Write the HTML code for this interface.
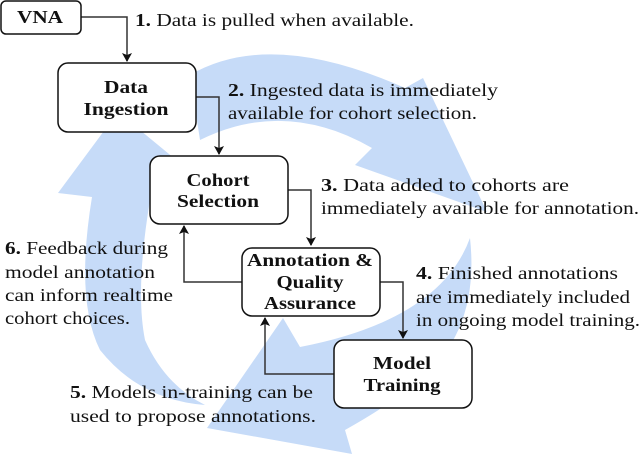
<!DOCTYPE html>
<html><head><meta charset="utf-8"><style>
body{margin:0;width:640px;height:454px;overflow:hidden;background:#fff}
svg{position:absolute;left:0;top:0}
text{font-family:"Liberation Serif","DejaVu Serif",serif;fill:#111}
.t{font-size:18px}
.b{font-size:18px;font-weight:bold;text-anchor:middle}
</style></head><body>
<svg width="640" height="454" viewBox="0 0 640 454" font-family="Liberation Serif, DejaVu Serif, serif">
<defs><marker id="a" markerWidth="10" markerHeight="10" refX="8" refY="5" orient="auto" markerUnits="userSpaceOnUse"><path d="M0,0 L9,5 L0,10 L2,5 Z" fill="#111"/></marker></defs>
<g fill="#c6dbf8">
<path d="M190,75 Q270,28 405,88 L423,78 L487,212 L355,165 L372,148 Q285,98 200,140 Z"/>
<path d="M470,238 Q480,330 420,380 Q390,405 345,430 L352,454 L207,428 L283,318 L300,347 Q440,320 470,238 Z"/>
<path d="M205,405 Q140,400 100,350 Q75,300 92,197 L58,193 L118,112 L186,168 L150,200 Q135,290 145,340 Q165,385 205,405 Z"/>
</g>
<g fill="none" stroke="#333" stroke-width="1.5">
<path d="M81,17 H127 V61" marker-end="url(#a)"/>
<path d="M196,97 H219 V154" marker-end="url(#a)"/>
<path d="M288,190 H311 V245" marker-end="url(#a)"/>
<path d="M380,282 H403 V338" marker-end="url(#a)"/>
<path d="M334,374 H265 V318" marker-end="url(#a)"/>
<path d="M242,282 H184 V226" marker-end="url(#a)"/>
</g>
<g fill="#fff" stroke="#111" stroke-width="1.5">
<rect x="1" y="1" width="80" height="33" rx="5"/>
<rect x="58" y="63" width="138" height="69" rx="10"/>
<rect x="150" y="156" width="138" height="68" rx="10"/>
<rect x="242" y="248" width="138" height="68" rx="10"/>
<rect x="334" y="340" width="138" height="68" rx="10"/>
</g>
<text class="b" x="40" y="23" textLength="46" lengthAdjust="spacingAndGlyphs">VNA</text>
<text class="b" x="126" y="93" textLength="44" lengthAdjust="spacingAndGlyphs">Data</text>
<text class="b" x="126" y="115" textLength="85" lengthAdjust="spacingAndGlyphs">Ingestion</text>
<text class="b" x="218" y="186" textLength="63" lengthAdjust="spacingAndGlyphs">Cohort</text>
<text class="b" x="218" y="207" textLength="82" lengthAdjust="spacingAndGlyphs">Selection</text>
<text class="b" x="310" y="266" textLength="126" lengthAdjust="spacingAndGlyphs">Annotation &amp;</text>
<text class="b" x="310" y="288" textLength="67" lengthAdjust="spacingAndGlyphs">Quality</text>
<text class="b" x="310" y="309" textLength="92" lengthAdjust="spacingAndGlyphs">Assurance</text>
<text class="b" x="402" y="369" textLength="58" lengthAdjust="spacingAndGlyphs">Model</text>
<text class="b" x="402" y="391" textLength="77" lengthAdjust="spacingAndGlyphs">Training</text>
<text class="t" x="135" y="26" textLength="279" lengthAdjust="spacingAndGlyphs"><tspan font-weight="bold">1.</tspan> Data is pulled when available.</text>
<text class="t" x="228" y="96" textLength="270" lengthAdjust="spacingAndGlyphs"><tspan font-weight="bold">2.</tspan> Ingested data is immediately</text>
<text class="t" x="228" y="119" textLength="249" lengthAdjust="spacingAndGlyphs">available for cohort selection.</text>
<text class="t" x="321" y="191" textLength="248" lengthAdjust="spacingAndGlyphs"><tspan font-weight="bold">3.</tspan> Data added to cohorts are</text>
<text class="t" x="321" y="214" textLength="318" lengthAdjust="spacingAndGlyphs">immediately available for annotation.</text>
<text class="t" x="416" y="279" textLength="202" lengthAdjust="spacingAndGlyphs"><tspan font-weight="bold">4.</tspan> Finished annotations</text>
<text class="t" x="416" y="303" textLength="214" lengthAdjust="spacingAndGlyphs">are immediately included</text>
<text class="t" x="416" y="326" textLength="224" lengthAdjust="spacingAndGlyphs">in ongoing model training.</text>
<text class="t" x="70" y="398" textLength="243" lengthAdjust="spacingAndGlyphs"><tspan font-weight="bold">5.</tspan> Models in-training can be</text>
<text class="t" x="70" y="422" textLength="246" lengthAdjust="spacingAndGlyphs">used to propose annotations.</text>
<text class="t" x="5" y="254" textLength="163" lengthAdjust="spacingAndGlyphs"><tspan font-weight="bold">6.</tspan> Feedback during</text>
<text class="t" x="5" y="278" textLength="150" lengthAdjust="spacingAndGlyphs">model annotation</text>
<text class="t" x="5" y="301" textLength="168" lengthAdjust="spacingAndGlyphs">can inform realtime</text>
<text class="t" x="5" y="324" textLength="125" lengthAdjust="spacingAndGlyphs">cohort choices.</text>
</svg>
</body></html>
